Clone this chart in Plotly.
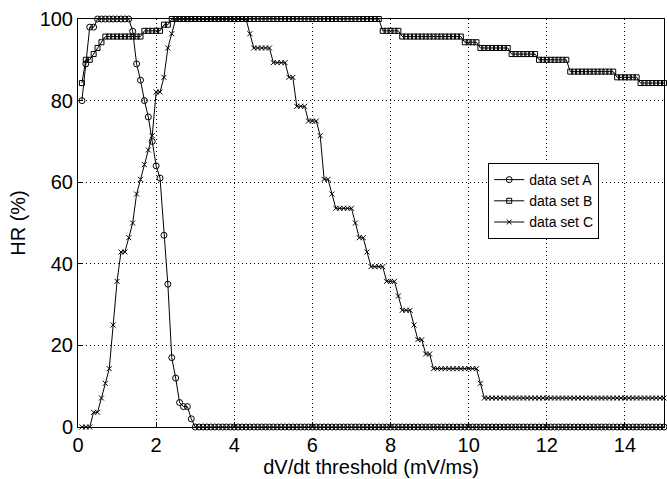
import plotly.graph_objects as go

# dV/dt threshold values (mV/ms)
threshold = [
    0.1, 0.2, 0.3, 0.4, 0.5, 0.6, 0.7, 0.8, 0.9, 1.0,
    1.1, 1.2, 1.3, 1.4, 1.5, 1.6, 1.7, 1.8, 1.9, 2.0,
    2.1, 2.2, 2.3, 2.4, 2.5, 2.6, 2.7, 2.8, 2.9, 3.0,
    3.1, 3.2, 3.3, 3.4, 3.5, 3.6, 3.7, 3.8, 3.9, 4.0,
    4.1, 4.2, 4.3, 4.4, 4.5, 4.6, 4.7, 4.8, 4.9, 5.0,
    5.1, 5.2, 5.3, 5.4, 5.5, 5.6, 5.7, 5.8, 5.9, 6.0,
    6.1, 6.2, 6.3, 6.4, 6.5, 6.6, 6.7, 6.8, 6.9, 7.0,
    7.1, 7.2, 7.3, 7.4, 7.5, 7.6, 7.7, 7.8, 7.9, 8.0,
    8.1, 8.2, 8.3, 8.4, 8.5, 8.6, 8.7, 8.8, 8.9, 9.0,
    9.1, 9.2, 9.3, 9.4, 9.5, 9.6, 9.7, 9.8, 9.9, 10.0,
    10.1, 10.2, 10.3, 10.4, 10.5, 10.6, 10.7, 10.8, 10.9, 11.0,
    11.1, 11.2, 11.3, 11.4, 11.5, 11.6, 11.7, 11.8, 11.9, 12.0,
    12.1, 12.2, 12.3, 12.4, 12.5, 12.6, 12.7, 12.8, 12.9, 13.0,
    13.1, 13.2, 13.3, 13.4, 13.5, 13.6, 13.7, 13.8, 13.9, 14.0,
    14.1, 14.2, 14.3, 14.4, 14.5, 14.6, 14.7, 14.8, 14.9, 15.0,
]

# HR (%) for data set A
hr_a = [
    80, 89, 98, 98, 100, 100, 100, 100, 100, 100,
    100, 100, 100, 97, 89, 85, 80, 76, 70, 64,
    61, 47, 35, 17, 12, 6, 5, 5, 2, 0,
    0, 0, 0, 0, 0, 0, 0, 0, 0, 0,
    0, 0, 0, 0, 0, 0, 0, 0, 0, 0,
    0, 0, 0, 0, 0, 0, 0, 0, 0, 0,
    0, 0, 0, 0, 0, 0, 0, 0, 0, 0,
    0, 0, 0, 0, 0, 0, 0, 0, 0, 0,
    0, 0, 0, 0, 0, 0, 0, 0, 0, 0,
    0, 0, 0, 0, 0, 0, 0, 0, 0, 0,
    0, 0, 0, 0, 0, 0, 0, 0, 0, 0,
    0, 0, 0, 0, 0, 0, 0, 0, 0, 0,
    0, 0, 0, 0, 0, 0, 0, 0, 0, 0,
    0, 0, 0, 0, 0, 0, 0, 0, 0, 0,
    0, 0, 0, 0, 0, 0, 0, 0, 0, 0,
]

# HR (%) for data set B
hr_b = [
    84.3, 90, 90, 91.4, 92.9, 94.3, 95.7, 95.7, 95.7, 95.7,
    95.7, 95.7, 95.7, 95.7, 95.7, 95.7, 97.1, 97.1, 97.1, 97.1,
    97.1, 98.6, 98.6, 100, 100, 100, 100, 100, 100, 100,
    100, 100, 100, 100, 100, 100, 100, 100, 100, 100,
    100, 100, 100, 100, 100, 100, 100, 100, 100, 100,
    100, 100, 100, 100, 100, 100, 100, 100, 100, 100,
    100, 100, 100, 100, 100, 100, 100, 100, 100, 100,
    100, 100, 100, 100, 100, 100, 100, 97.1, 97.1, 97.1,
    97.1, 97.1, 95.7, 95.7, 95.7, 95.7, 95.7, 95.7, 95.7, 95.7,
    95.7, 95.7, 95.7, 95.7, 95.7, 95.7, 95.7, 95.7, 94.3, 94.3,
    94.3, 94.3, 92.9, 92.9, 92.9, 92.9, 92.9, 92.9, 92.9, 92.9,
    91.4, 91.4, 91.4, 91.4, 91.4, 91.4, 91.4, 90, 90, 90,
    90, 90, 90, 90, 90, 87.1, 87.1, 87.1, 87.1, 87.1,
    87.1, 87.1, 87.1, 87.1, 87.1, 87.1, 87.1, 85.7, 85.7, 85.7,
    85.7, 85.7, 85.7, 84.3, 84.3, 84.3, 84.3, 84.3, 84.3, 84.3,
]

# HR (%) for data set C
hr_c = [
    0, 0, 0, 3.6, 3.6, 7.1, 10.7, 14.3, 25, 35.7,
    42.9, 42.9, 46.4, 50, 57.1, 60.7, 64.3, 67.9, 71.4, 82.1,
    82.1, 85.7, 92.9, 96.4, 100, 100, 100, 100, 100, 100,
    100, 100, 100, 100, 100, 100, 100, 100, 100, 100,
    100, 100, 100, 96.4, 92.9, 92.9, 92.9, 92.9, 92.9, 89.3,
    89.3, 89.3, 89.3, 85.7, 85.7, 78.6, 78.6, 78.6, 75, 75,
    75, 71.4, 60.7, 60.7, 57.1, 53.6, 53.6, 53.6, 53.6, 53.6,
    50, 46.4, 46.4, 42.9, 39.3, 39.3, 39.3, 39.3, 35.7, 35.7,
    35.7, 32.1, 28.6, 28.6, 28.6, 25, 21.4, 21.4, 17.9, 17.9,
    14.3, 14.3, 14.3, 14.3, 14.3, 14.3, 14.3, 14.3, 14.3, 14.3,
    14.3, 14.3, 10.7, 7.1, 7.1, 7.1, 7.1, 7.1, 7.1, 7.1,
    7.1, 7.1, 7.1, 7.1, 7.1, 7.1, 7.1, 7.1, 7.1, 7.1,
    7.1, 7.1, 7.1, 7.1, 7.1, 7.1, 7.1, 7.1, 7.1, 7.1,
    7.1, 7.1, 7.1, 7.1, 7.1, 7.1, 7.1, 7.1, 7.1, 7.1,
    7.1, 7.1, 7.1, 7.1, 7.1, 7.1, 7.1, 7.1, 7.1, 7.1,
]

series_names = ["data set A", "data set B", "data set C"]
x_ticks = [0, 2, 4, 6, 8, 10, 12, 14]
y_ticks = [0, 20, 40, 60, 80, 100]

FONT = "Liberation Sans, Arial, Helvetica, sans-serif"

fig = go.Figure()
styles = [
    dict(symbol="circle-open", size=6),
    dict(symbol="square-open", size=5),
    dict(symbol="x-thin-open", size=5),
]
for name, vals, st in zip(series_names, [hr_a, hr_b, hr_c], styles):
    fig.add_trace(go.Scatter(
        x=threshold, y=vals, name=name, mode="lines+markers",
        line=dict(color="black", width=1),
        marker=dict(symbol=st["symbol"], size=st["size"], color="black",
                    line=dict(color="black", width=1)),
        cliponaxis=False,
    ))

axis_common = dict(
    showline=True, linecolor="black", linewidth=1, mirror=True,
    ticks="inside", ticklen=5, tickcolor="black",
    showgrid=True, gridcolor="black", gridwidth=1, griddash="1px,3px",
    zeroline=False, automargin=False,
    tickfont=dict(family=FONT, size=20, color="black"),
)

fig.update_xaxes(
    range=[0, 15], tickvals=x_ticks, ticklabelstandoff=0,
    title=dict(text="dV/dt threshold (mV/ms)", font=dict(family=FONT, size=20, color="black"), standoff=2),
    **axis_common,
)
fig.update_yaxes(
    range=[0, 100], tickvals=y_ticks, ticklabelstandoff=0,
    title=dict(text="HR (%)", font=dict(family=FONT, size=20, color="black"), standoff=8),
    **axis_common,
)

fig.update_layout(
    width=667, height=479,
    margin=dict(l=78, r=3, t=19, b=52, autoexpand=False),
    paper_bgcolor="white", plot_bgcolor="white",
    font=dict(family=FONT, color="black"),
    legend=dict(
        x=0.70, y=0.647, xanchor="left", yanchor="top",
        bgcolor="white", bordercolor="black", borderwidth=1,
        font=dict(family=FONT, size=14, color="black"),
        tracegroupgap=0,
    ),
    showlegend=True,
)

fig.write_html(
    "out.html",
    config={"displayModeBar": False},
    post_script="document.body.style.margin='0';document.body.style.overflow='hidden';",
)
